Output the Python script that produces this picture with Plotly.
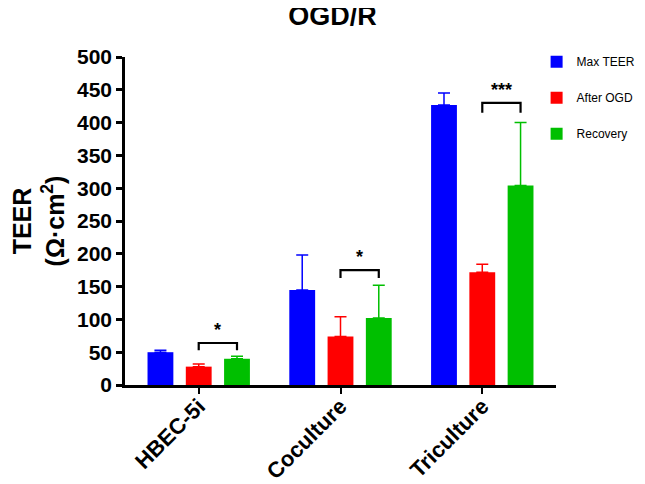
import plotly.graph_objects as go

categories = ["HBEC-5i", "Coculture", "Triculture"]
series_names = ["Max TEER", "After OGD", "Recovery"]
max_teer = [50, 145, 427]
max_teer_err = [3, 53, 18]
after_ogd = [28, 74, 172]
after_ogd_err = [4, 30, 12]
recovery = [40, 102, 304]
recovery_err = [4, 50, 96]
colors = ["#0000FF", "#FF0000", "#00BF00"]

# significance brackets: (category index, bracket y, leg bottom y, label)
sig_cat = [0, 1, 2]
sig_y = [64, 175, 430]
sig_leg = [53, 163, 415]
sig_label = ["*", "*", "***"]

FONT = "Liberation Sans, Arial, sans-serif"

fig = go.Figure()
vals = [max_teer, after_ogd, recovery]
errs = [max_teer_err, after_ogd_err, recovery_err]
for i in range(3):
    fig.add_trace(go.Bar(
        x=categories, y=vals[i], name=series_names[i],
        marker=dict(color=colors[i], line=dict(width=0)),
        error_y=dict(type="data", symmetric=False, array=errs[i],
                     arrayminus=[0, 0, 0], color=colors[i],
                     thickness=1.5, width=6),
        legendgroup=series_names[i],
    ))

bargap = 0.19
slot = (1 - bargap) / 3
for c, yb, yl, lab in zip(sig_cat, sig_y, sig_leg, sig_label):
    x0 = c
    x1 = c + slot
    fig.add_shape(type="path", xref="x", yref="y",
                  path=f"M {x0},{yl} L {x0},{yb} L {x1},{yb} L {x1},{yl}",
                  line=dict(color="black", width=2.2))
    fig.add_annotation(x=(x0 + x1) / 2, y=yb, yref="y", xref="x",
                       text=f"<b>{lab}</b>", showarrow=False, yshift=13,
                       font=dict(family=FONT, size=18, color="black"))

fig.update_layout(
    width=645, height=484,
    margin=dict(l=117, r=78, t=49, b=107),
    plot_bgcolor="white", paper_bgcolor="white",
    barmode="group", bargap=bargap, bargroupgap=0.325,
    title=dict(text="<b>OGD/R</b>", x=0.503, xanchor="center", y=0.985,
               yanchor="middle", font=dict(family=FONT, size=27, color="black")),
    legend=dict(x=0.955, xanchor="left", y=1.03, yanchor="top",
                font=dict(family=FONT, size=12, color="black"),
                tracegroupgap=17, bgcolor="rgba(0,0,0,0)"),
    xaxis=dict(range=[-0.52, 2.52], showline=True, linecolor="black",
               linewidth=2.5, ticks="outside", ticklen=6, tickwidth=2,
               tickcolor="black", tickangle=-45, automargin=False,
               ticklabelstandoff=-9,
               tickfont=dict(family=FONT, size=22, color="black", weight="bold"),
               showgrid=False, zeroline=False),
    yaxis=dict(range=[0, 500], dtick=50, showline=True, linecolor="black",
               linewidth=2.5, ticks="outside", ticklen=6, tickwidth=2.5,
               tickcolor="black", automargin=False,
               tickfont=dict(family=FONT, size=21, color="black", weight="bold"),
               showgrid=False, zeroline=False,
               title=dict(text="<b>TEER<br>(Ω·cm<sup>2</sup>)</b>", standoff=11,
                          font=dict(family=FONT, size=25, color="black"))),
)

fig.write_html("out.html")
